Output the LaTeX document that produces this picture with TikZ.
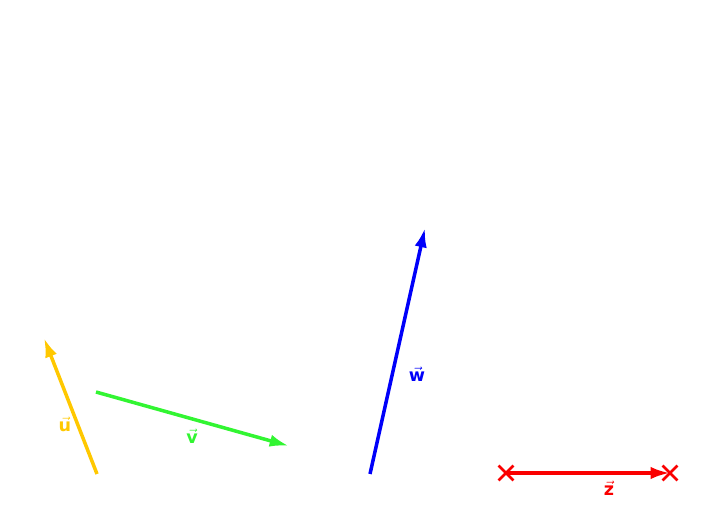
\documentclass[tikz,border=0pt]{standalone}
\usepackage{fontspec}
\setsansfont{DejaVu Sans}
\usetikzlibrary{arrows.meta, shapes.misc}
\definecolor{vecyellow}{RGB}{255,200,0}
\definecolor{vecgreen}{RGB}{50,245,50}
\definecolor{vecblue}{RGB}{0,0,250}
\definecolor{vecred}{RGB}{250,0,0}
\newcommand{\vlab}[1]{$\vec{\textsf{\textbf{#1}}}$}

\begin{document}
\begin{tikzpicture}[x=0.02cm, y=-0.02cm, >={Latex[length=11pt, width=7pt]}]
  \tikzset{vecline/.style={->, line width=2pt}, veclabel/.style={font=\sffamily\bfseries, inner sep=1pt}, endmark/.style={cross out, draw, line width=1.5pt, minimum size=7pt, inner sep=0pt}}
  \useasboundingbox (0,0) rectangle (725,530);

  % Vecteur u
  \coordinate (uA) at (97,474);
  \coordinate (uB) at (44,338);
  \draw[vecline, vecyellow] (uA) -- (uB);
  \node[veclabel, text=vecyellow] (ulab) at (65,424) {\vlab{u}};

  % Vecteur v
  \coordinate (vA) at (96,392);
  \coordinate (vB) at (289,446);
  \draw[vecline, vecgreen] (vA) -- (vB);
  \node[veclabel, text=vecgreen] (vlab) at (192,436) {\vlab{v}};

  % Vecteur w
  \coordinate (wA) at (370,474);
  \coordinate (wB) at (425,228);
  \draw[vecline, vecblue] (wA) -- (wB);
  \node[veclabel, text=vecblue] (wlab) at (417,374) {\vlab{w}};

  % Vecteur z (extrémités marquées)
  \node[endmark, vecred] (zA) at (506,473) {};
  \node[endmark, vecred] (zB) at (670,473) {};
  \draw[vecline, vecred] (zA.center) -- (zB.center);
  \node[veclabel, text=vecred] (zlab) at (609,488) {\vlab{z}};
\end{tikzpicture}
\end{document}
